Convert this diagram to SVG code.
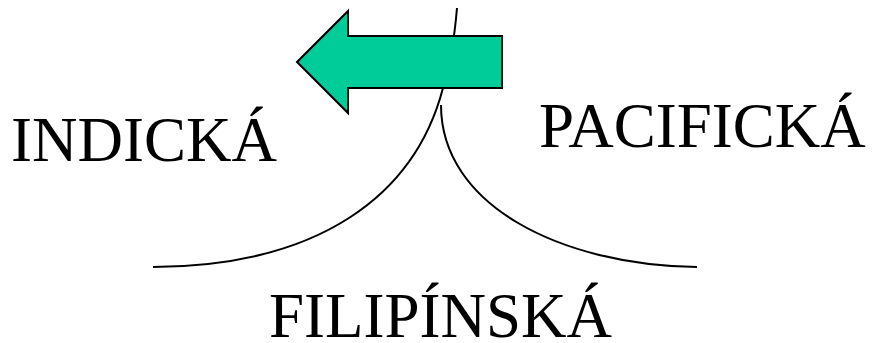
<svg xmlns="http://www.w3.org/2000/svg" width="873" height="343" viewBox="0 0 873 343">
<style>
.lbl{font-family:"Liberation Serif","Times New Roman",serif;font-size:63px;fill:#000}
.curve{fill:none;stroke:#000;stroke-width:2}
</style>
<rect width="873" height="343" fill="#fff"/>
<g id="connectors">
<path class="curve" d="M457,8 Q453,55 443,88 C415,195 320,266 153,267"/>
<path class="curve" d="M441,105 C441,205 560,265 697,267"/>
</g>
<g id="arrow">
<polygon points="297,62 348,11 348,36 502,36 502,88 348,88 348,113" fill="#00CC99" stroke="#000" stroke-width="2" stroke-linejoin="miter"/>
</g>
<g id="indicka"><text class="lbl" x="11" y="161">INDICKÁ</text></g>
<g id="pacificka"><text class="lbl" x="539" y="147">PACIFICKÁ</text></g>
<g id="filipinska"><text class="lbl" x="269" y="337">FILIPÍNSKÁ</text></g>
</svg>
